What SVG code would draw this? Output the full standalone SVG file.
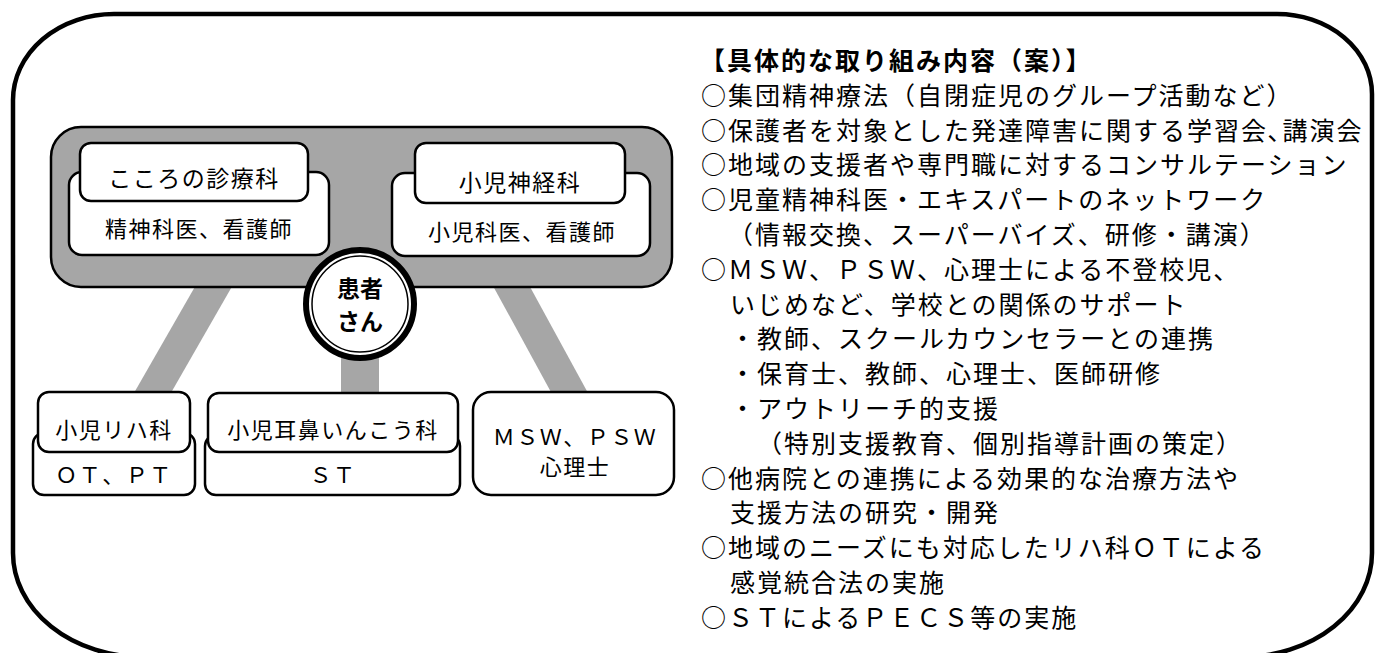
<svg xmlns="http://www.w3.org/2000/svg" width="1375" height="653" viewBox="0 0 1375 653">
<style>
.frame{fill:#fff;stroke:#000;stroke-width:4.5}
.grp{fill:#a6a6a6;stroke:#000;stroke-width:2.5}
.box{fill:#fff;stroke:#000;stroke-width:2.5}
.lbl{font-family:"Noto Sans CJK JP","Noto Sans",sans-serif;font-size:22px;letter-spacing:1.5px;text-anchor:middle;dominant-baseline:central;fill:#000}
.pat{font-family:"Noto Sans CJK JP","Noto Sans",sans-serif;font-size:23px;font-weight:bold;text-anchor:middle;dominant-baseline:central;fill:#000}
.body{font-family:"Noto Sans CJK JP","Noto Sans",sans-serif;font-size:25px;letter-spacing:2px;dominant-baseline:central;fill:#000}
.conn{stroke:#a6a6a6;stroke-width:32;fill:none}
</style>
<rect width="1375" height="653" fill="#fff"/>
<path class="frame" d="M114,14 H1277 A95 80 0 0 1 1372,94 V553 A130 104 0 0 1 1242,657 H143 A130 104 0 0 1 13,553 V100 A101 86 0 0 1 114,14 Z"/>
<g id="connectors">
<line class="conn" x1="223" y1="270" x2="149" y2="399"/>
<line class="conn" x1="360" y1="330" x2="360" y2="400" style="stroke-width:38"/>
<line class="conn" x1="502" y1="269" x2="573" y2="399"/>
</g>
<g id="team">
<rect class="grp" x="51" y="127" width="621" height="160" rx="30"/>
</g>
<g id="kokoro">
<rect class="box" x="69" y="172" width="260" height="83" rx="13"/>
<rect class="box" x="80" y="143" width="228" height="58" rx="11"/>
<text class="lbl" x="194" y="177" style="font-size:23px">こころの診療科</text>
<text class="lbl" x="199" y="227">精神科医、看護師</text>
</g>
<g id="shinkei">
<rect class="box" x="392" y="173" width="258" height="83" rx="13"/>
<rect class="box" x="415" y="143" width="210" height="60" rx="11"/>
<text class="lbl" x="520" y="181" style="font-size:23px">小児神経科</text>
<text class="lbl" x="522" y="230">小児科医、看護師</text>
</g>
<g id="patient">
<circle cx="360" cy="304" r="54" fill="#fff" stroke="#000" stroke-width="6"/>
<circle cx="360" cy="304" r="48" fill="#fff" stroke="#000" stroke-width="1.5"/>
<text class="pat" x="360" y="287">患者</text>
<text class="pat" x="360" y="320">さん</text>
</g>
<g id="riha">
<rect class="box" x="33" y="433" width="162" height="62" rx="11"/>
<rect class="box" x="38" y="392" width="152" height="60" rx="11"/>
<text class="lbl" x="114" y="428">小児リハ科</text>
<text class="lbl" x="114" y="473">ＯＴ、ＰＴ</text>
</g>
<g id="jibi">
<rect class="box" x="205" y="435" width="255" height="60" rx="11"/>
<rect class="box" x="208" y="393" width="250" height="59" rx="11"/>
<text class="lbl" x="333" y="428">小児耳鼻いんこう科</text>
<text class="lbl" x="333" y="473">ＳＴ</text>
</g>
<g id="msw">
<rect class="box" x="473" y="392" width="201" height="103" rx="18"/>
<text class="lbl" x="575" y="435">ＭＳＷ、ＰＳＷ</text>
<text class="lbl" x="575" y="465">心理士</text>
</g>
<g id="contents">
<text class="body" x="700" y="59" style="font-weight:bold">【具体的な取り組み内容（案）】</text>
<text class="body" x="701" y="93.8">○集団精神療法（自閉症児のグループ活動など）</text>
<text class="body" x="701" y="128.6">○保護者を対象とした発達障害に関する学習会､講演会</text>
<text class="body" x="701" y="163.4">○地域の支援者や専門職に対するコンサルテーション</text>
<text class="body" x="701" y="198.2">○児童精神科医・エキスパートのネットワーク</text>
<text class="body" x="728" y="233">（情報交換、スーパーバイズ、研修・講演）</text>
<text class="body" x="701" y="267.8">○ＭＳＷ、ＰＳＷ、心理士による不登校児、</text>
<text class="body" x="730" y="302.6">いじめなど、学校との関係のサポート</text>
<text class="body" x="730" y="337.4">・教師、スクールカウンセラーとの連携</text>
<text class="body" x="730" y="372.2">・保育士、教師、心理士、医師研修</text>
<text class="body" x="730" y="407">・アウトリーチ的支援</text>
<text class="body" x="757" y="441.8">（特別支援教育、個別指導計画の策定）</text>
<text class="body" x="701" y="476.6">○他病院との連携による効果的な治療方法や</text>
<text class="body" x="730" y="511.4">支援方法の研究・開発</text>
<text class="body" x="701" y="546.2">○地域のニーズにも対応したリハ科ＯＴによる</text>
<text class="body" x="730" y="581">感覚統合法の実施</text>
<text class="body" x="701" y="615.8">○ＳＴによるＰＥＣＳ等の実施</text>
</g>
</svg>
